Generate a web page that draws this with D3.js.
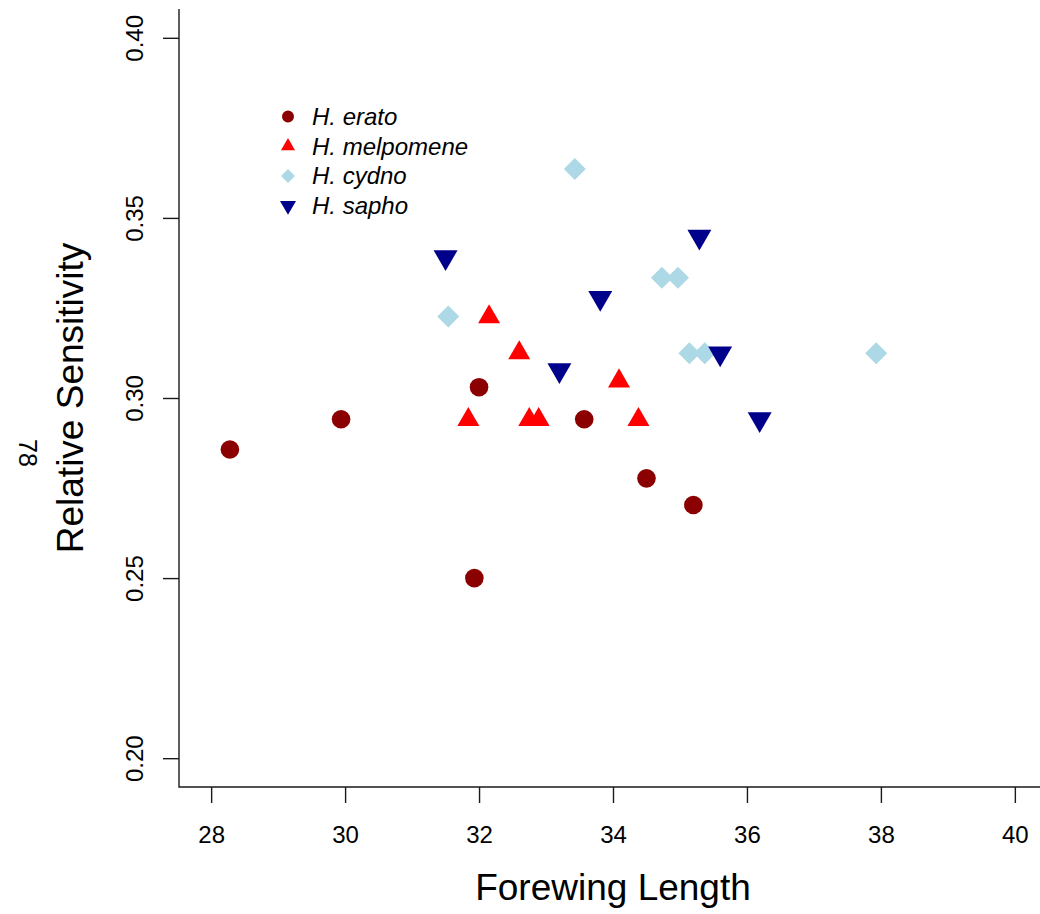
<!DOCTYPE html>
<html><head><meta charset="utf-8">
<script src="https://cdn.jsdelivr.net/npm/d3@7"></script>
<style>body{margin:0;background:#fff}svg{display:block}</style>
</head><body><svg id="c" width="1040" height="914"></svg>
<script>
// ---- data ----
const xTicks = [28, 30, 32, 34, 36, 38, 40];
const yTicks = [0.20, 0.25, 0.30, 0.35, 0.40];
const xLim = [28, 40];
const yLim = [0.20, 0.40];
const species = ["H. erato", "H. melpomene", "H. cydno", "H. sapho"];
const colors = ["#8B0000", "#FF0000", "#ADD8E6", "#00008B"];
const eratoX = [28.28, 29.94, 32.00, 31.93, 33.57, 34.50, 35.20];
const eratoY = [0.2857, 0.2941, 0.3030, 0.2500, 0.2941, 0.2777, 0.2703];
const melpomeneX = [31.84, 32.15, 32.60, 32.75, 32.89, 34.09, 34.38];
const melpomeneY = [0.2940, 0.3225, 0.3125, 0.2940, 0.2940, 0.3047, 0.2940];
const cydnoX = [33.43, 31.54, 34.73, 34.97, 35.14, 35.37, 37.93];
const cydnoY = [0.3636, 0.3226, 0.3334, 0.3334, 0.3124, 0.3124, 0.3124];
const saphoX = [31.50, 33.81, 35.29, 33.20, 35.60, 36.19];
const saphoY = [0.3391, 0.3278, 0.3448, 0.3077, 0.3124, 0.2941];
const xTitle = "Forewing Length";
const yTitle = "Relative Sensitivity";
const yNote = "78";

const seriesX = [eratoX, melpomeneX, cydnoX, saphoX];
const seriesY = [eratoY, melpomeneY, cydnoY, saphoY];

// ---- layout ----
const svg = d3.select("#c");
svg.append("rect").attr("width", 1040).attr("height", 914).attr("fill", "#fff");
const plot = {left: 179, right: 1047, top: 9, bottom: 787};
const ext = (l) => { const d = (l[1] - l[0]) * 0.04; return [l[0] - d, l[1] + d]; };
const x = d3.scaleLinear().domain(ext(xLim)).range([plot.left, plot.right]);
const y = d3.scaleLinear().domain(ext(yLim)).range([plot.bottom, plot.top]);

const font = "'Liberation Sans', Arial, Helvetica, sans-serif";
const ink = "#1a1a1a";

// box (L-shaped)
svg.append("path")
  .attr("d", `M${plot.left},${plot.top}V${plot.bottom}H${plot.right}`)
  .attr("fill", "none").attr("stroke", ink).attr("stroke-width", 1.4);

// axes
const gx = svg.append("g").attr("transform", `translate(0,${plot.bottom})`)
  .call(d3.axisBottom(x).tickValues(xTicks).tickSize(16).tickPadding(23).tickFormat(d3.format("d")));
const gy = svg.append("g").attr("transform", `translate(${plot.left},0)`)
  .call(d3.axisLeft(y).tickValues(yTicks).tickSize(16).tickFormat(d3.format(".2f")));
[gx, gy].forEach(g => {
  g.select(".domain").remove();
  g.selectAll(".tick line").attr("stroke", ink).attr("stroke-width", 1.4);
  g.selectAll("text").attr("font-family", font).attr("font-size", 24).attr("fill", "#000");
});
gx.selectAll("text").attr("dy", "0.71em");
gy.selectAll(".tick text")
  .attr("x", null).attr("dy", null)
  .attr("text-anchor", "middle")
  .attr("transform", "translate(-36,0) rotate(-90)");

// titles
svg.append("text").attr("x", (plot.left + plot.right) / 2).attr("y", 900)
  .attr("text-anchor", "middle").attr("font-family", font).attr("font-size", 37)
  .text(xTitle);
svg.append("text").attr("transform", `translate(83,${(plot.top + plot.bottom) / 2}) rotate(-90)`)
  .attr("text-anchor", "middle").attr("font-family", font).attr("font-size", 37)
  .text(yTitle);
svg.append("text").attr("transform", `translate(19,453) rotate(90)`)
  .attr("text-anchor", "middle").attr("font-family", font).attr("font-size", 25)
  .text(yNote);

// symbols
const symType = [d3.symbolCircle, d3.symbolTriangle, d3.symbolSquare, d3.symbolTriangle];
const symRot = [0, 0, 45, 180];
const symSize = [272, 210, 242, 249];
const legSize = [113, 85, 98, 111];

seriesX.forEach((xs, i) => {
  const pts = xs.map((v, j) => [v, seriesY[i][j]]);
  svg.append("g").selectAll("path").data(pts).join("path")
    .attr("d", d3.symbol(symType[i], symSize[i]))
    .attr("transform", d => `translate(${x(d[0])},${y(d[1])}) rotate(${symRot[i]})`)
    .attr("fill", colors[i]);
});

// legend
const leg = svg.append("g");
species.forEach((s, i) => {
  const cy = 116.5 + i * 29.7;
  leg.append("path").attr("d", d3.symbol(symType[i], legSize[i]))
    .attr("transform", `translate(288,${cy}) rotate(${symRot[i]})`)
    .attr("fill", colors[i]);
  leg.append("text").attr("x", 312).attr("y", cy + 8.5)
    .attr("font-family", font).attr("font-size", 24).attr("font-style", "italic")
    .text(s);
});
</script></body></html>
